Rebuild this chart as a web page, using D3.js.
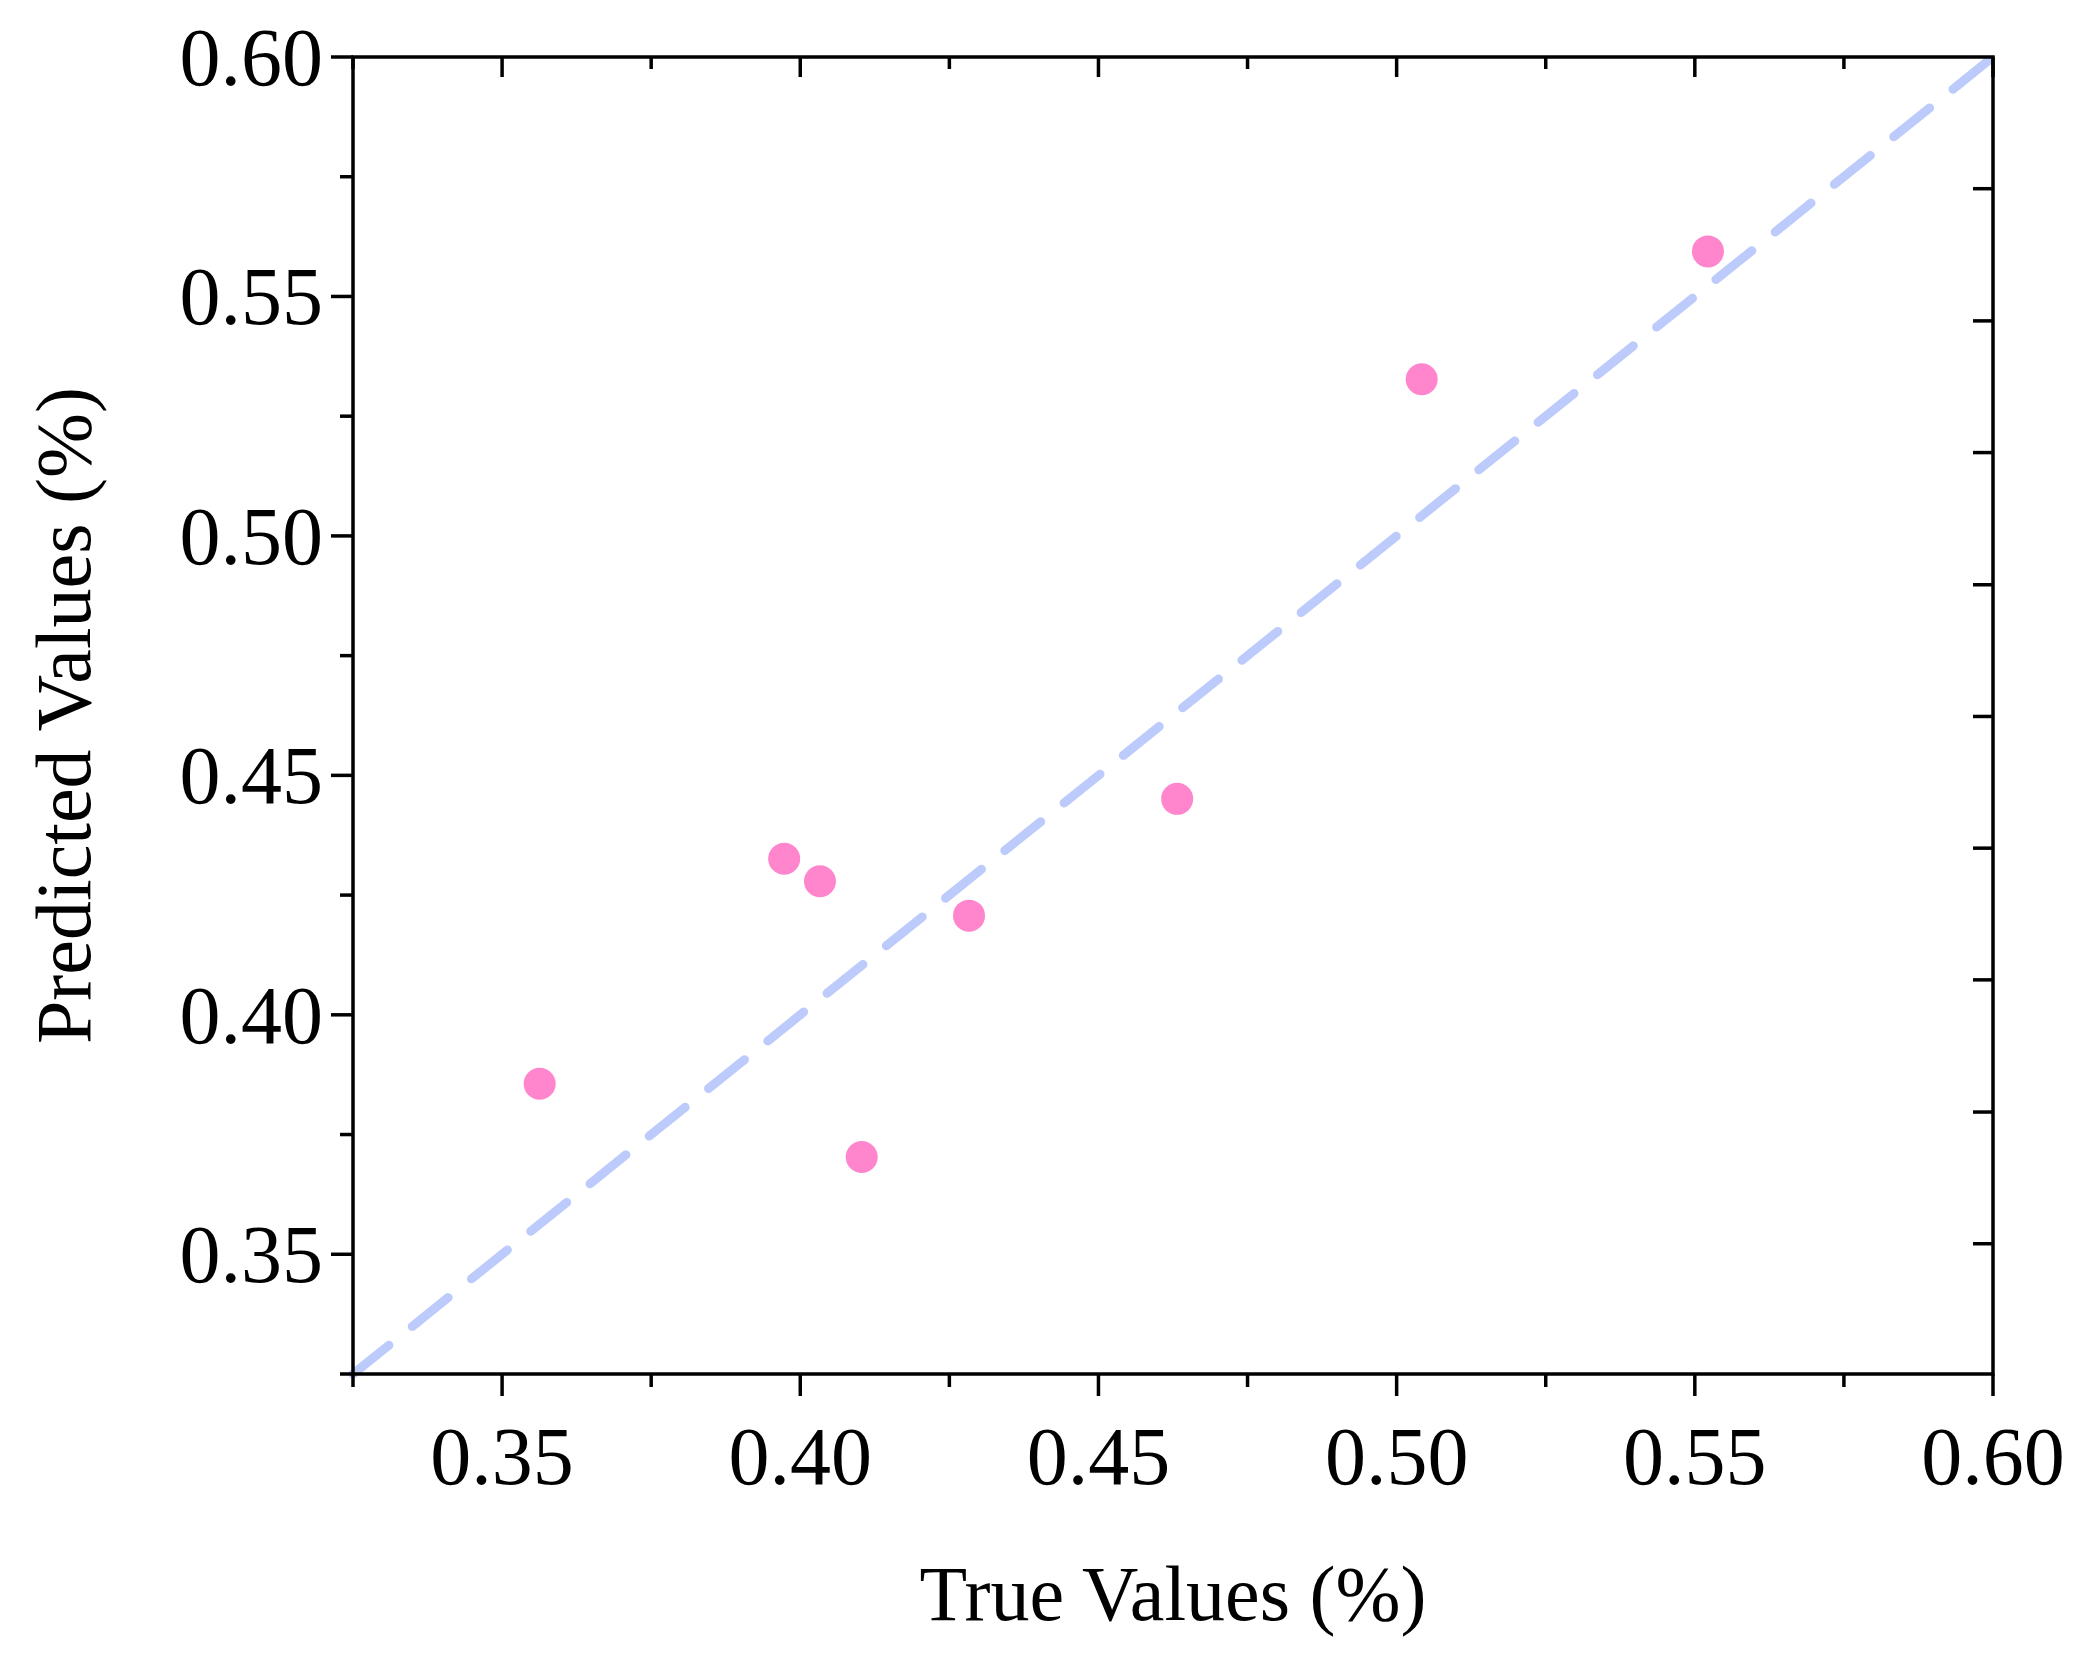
<!DOCTYPE html><html><head><meta charset="utf-8"><script src="https://cdn.jsdelivr.net/npm/d3@7"></script>
<style>body{margin:0;background:#fff}</style></head><body><script>
const trueVals=[0.3563,0.3973,0.4033,0.4103,0.4283,0.4632,0.5042,0.5522];
const predVals=[0.3856,0.4326,0.4279,0.3703,0.4207,0.4451,0.5327,0.5594];
const majorTicks=[0.35,0.40,0.45,0.50,0.55,0.60];
const minorTicks=[0.325,0.375,0.425,0.475,0.525,0.575];
const rightTicks=[0.3522,0.3797,0.4073,0.4348,0.4623,0.4898,0.5174,0.5449,0.5725];
const W=2087,H=1656,L=353,R=1993,T=57,B=1374;
const svg=d3.select("body").append("svg").attr("width",W).attr("height",H);
const x=d3.scaleLinear().domain([0.325,0.6]).range([L,R]);
const y=d3.scaleLinear().domain([0.325,0.6]).range([B,T]);
const font="Liberation Serif";
svg.append("line").attr("x1",x(0.325)).attr("y1",y(0.325)).attr("x2",x(0.6)).attr("y2",y(0.6))
 .attr("stroke","#bccbfb").attr("stroke-width",9).attr("stroke-dasharray","46,30").attr("stroke-linecap","round");
svg.selectAll("circle").data(trueVals).join("circle").attr("cx",d=>x(d)).attr("cy",(d,i)=>y(predVals[i])).attr("r",16).attr("fill","#ff85cc");
const g=svg.append("g").attr("stroke","#000").attr("stroke-width",3.5);
g.append("rect").attr("x",L).attr("y",T).attr("width",R-L).attr("height",B-T).attr("fill","none");
majorTicks.forEach(v=>{g.append("line").attr("x1",x(v)).attr("x2",x(v)).attr("y1",B).attr("y2",B+22);
 g.append("line").attr("y1",y(v)).attr("y2",y(v)).attr("x1",L).attr("x2",L-22);
 g.append("line").attr("x1",x(v)).attr("x2",x(v)).attr("y1",T).attr("y2",T+20);});
minorTicks.forEach(v=>{g.append("line").attr("x1",x(v)).attr("x2",x(v)).attr("y1",B).attr("y2",B+13);
 g.append("line").attr("y1",y(v)).attr("y2",y(v)).attr("x1",L).attr("x2",L-13);
 g.append("line").attr("x1",x(v)).attr("x2",x(v)).attr("y1",T).attr("y2",T+12);});
rightTicks.forEach(v=>g.append("line").attr("y1",y(v)).attr("y2",y(v)).attr("x1",R).attr("x2",R-20));
const fmt=d3.format(".2f");
svg.selectAll(".xl").data(majorTicks).join("text").attr("x",d=>x(d)).attr("y",1484).attr("text-anchor","middle")
 .attr("font-family",font).attr("font-size",82).text(fmt);
svg.selectAll(".yl").data(majorTicks).join("text").attr("x",L-30).attr("y",d=>y(d)+28).attr("text-anchor","end")
 .attr("font-family",font).attr("font-size",82).text(fmt);
svg.append("text").attr("x",(L+R)/2).attr("y",1620).attr("text-anchor","middle").attr("font-family",font).attr("font-size",78).text("True Values (%)");
svg.append("text").attr("transform",`translate(90,${(T+B)/2}) rotate(-90)`).attr("text-anchor","middle").attr("font-family",font).attr("font-size",78).text("Predicted Values (%)");
</script></body></html>
